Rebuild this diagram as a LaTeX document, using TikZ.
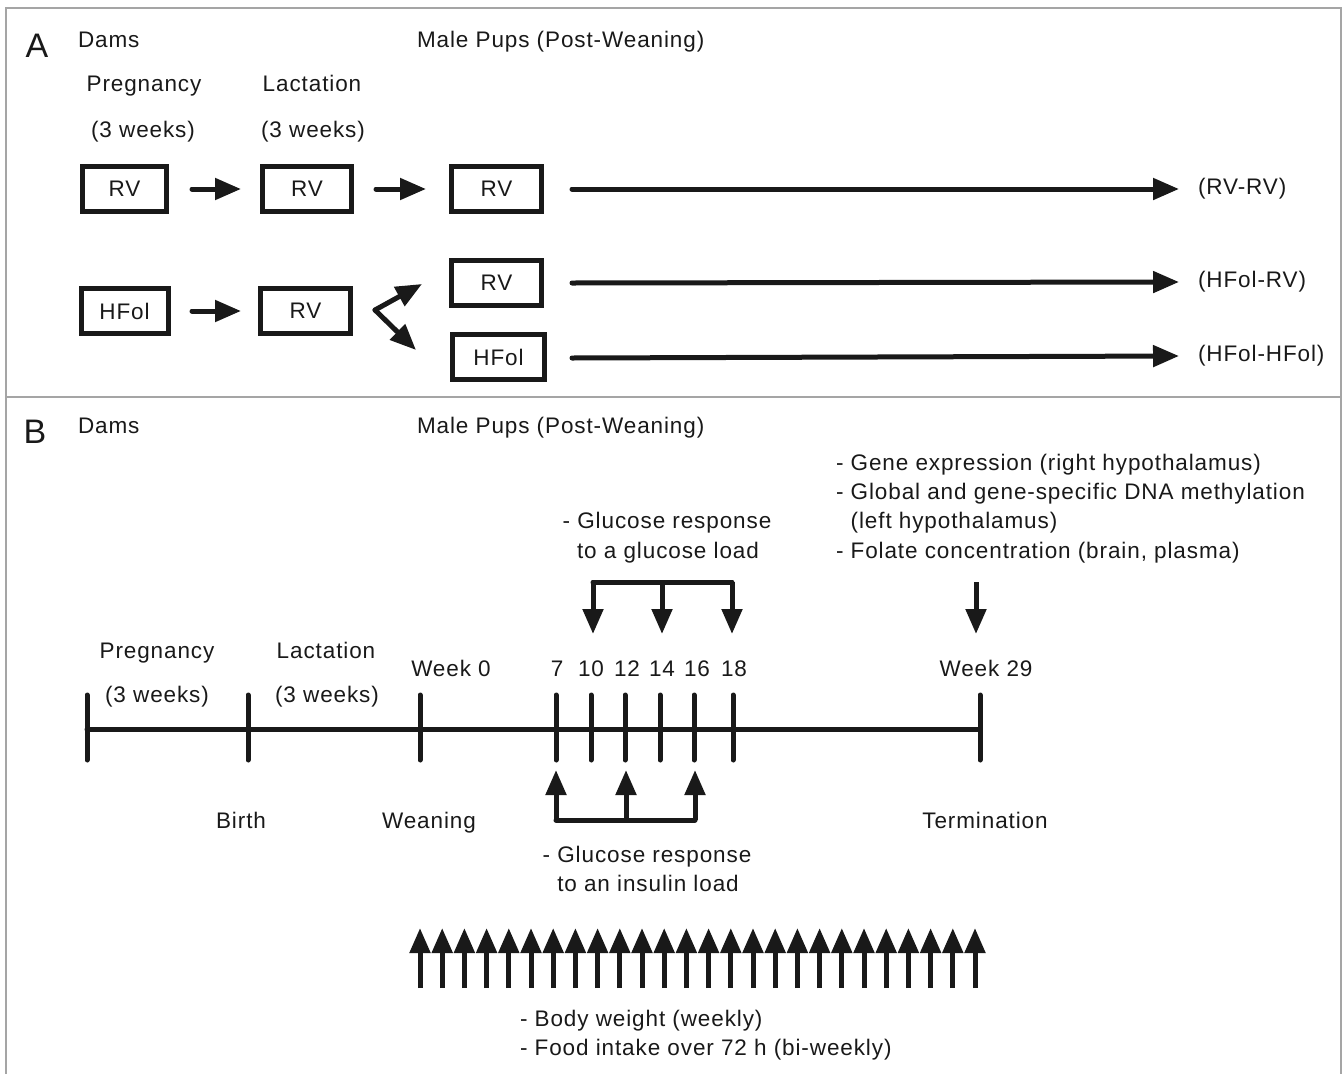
\documentclass[tikz,border=0pt]{standalone}
\usepackage{fontspec}
\setmainfont{Liberation Sans}
\newfontfamily\lsf[LetterSpace=4]{Liberation Sans}
\usetikzlibrary{arrows.meta}
\definecolor{ink}{RGB}{25,25,25}
\definecolor{framec}{RGB}{165,165,165}
\newcommand\fs{\lsf\fontsize{22.5}{26}\selectfont}
\newcommand\bigfs{\fontsize{34}{38}\selectfont}
\begin{document}
\begin{tikzpicture}[x=1pt,y=-1pt,
  every node/.style={inner sep=0pt, outer sep=0pt, text=ink, font=\fs},
  lbl/.style={anchor=base},
  lblw/.style={anchor=base west},
  panel/.style={anchor=base, font=\bigfs},
  diet/.style={draw=ink, line width=5pt, minimum width=84pt, minimum height=45pt},
  thick line/.style={draw=ink, line width=5pt, line cap=round},
  arr/.style={thick line, -{Triangle[length=26pt,width=21pt]}},
  uparr/.style={draw=ink, line width=5pt, -{Triangle[length=25pt,width=20pt]}},
]
\useasboundingbox (0,0) rectangle (1343,1074);
% frames
\draw[framec, line width=1.5pt] (6,1074) -- (6,8) -- (1341,8) -- (1341,1074);
\draw[framec, line width=1.5pt] (6,397) -- (1341,397);

% ---------------- Panel A ----------------
\node[panel] (pA) at (37,57) {A};
\node[lblw] (damsA) at (78,47) {Dams};
\node[lblw] (pupsA) at (417,47) {Male Pups (Post-Weaning)};
\node[lbl] (pregA) at (144,91) {Pregnancy};
\node[lbl] (pregwA) at (143,137) {(3 weeks)};
\node[lbl] (lactA) at (312,91) {Lactation};
\node[lbl] (lactwA) at (313,137) {(3 weeks)};

\node[diet] (a1) at (124.5,189) {RV};
\node[diet, minimum width=89pt] (a2) at (307,189) {RV};
\node[diet, minimum width=90pt] (a3) at (496.5,189) {RV};
\node[diet, minimum width=87pt] (b1) at (124.5,311) {HFol};
\node[diet, minimum width=90pt] (b2) at (305.5,311) {RV};
\node[diet, minimum width=90pt] (b3) at (496.5,282.5) {RV};
\node[diet, minimum width=92pt] (b4) at (498.5,357) {HFol};

\node[anchor=west] (rvrv) at (1198,189) {(RV-RV)};
\node[anchor=west] (hfrv) at (1198,282) {(HFol-RV)};
\node[anchor=west] (hfhf) at (1198,356) {(HFol-HFol)};

\draw[arr] ([xshift=25.5pt]a1.east) -- ([xshift=-21.5pt]a2.west);
\draw[arr] ([xshift=24.5pt]a2.east) -- ([xshift=-25.5pt]a3.west);
\draw[arr] ([xshift=24pt]b1.east) -- ([xshift=-19.5pt]b2.west);
\draw[arr] ([xshift=30.5pt]a3.east) -- ([xshift=-19pt]rvrv.west);
\draw[arr] ([xshift=30.5pt,yshift=-0.5pt]b3.east) -- ([xshift=-19pt]hfrv.west);
\draw[arr] ([xshift=27.5pt,yshift=-1pt]b4.east) -- ([xshift=-19pt]hfhf.west);

\coordinate (fork) at (375,310);
\coordinate (forkU) at (422,284);
\coordinate (forkL) at (416,350);
\draw[arr] (fork) -- (forkU);
\draw[arr] (fork) -- (forkL);

% ---------------- Panel B ----------------
\node[panel] (pB) at (35,443) {B};
\node[lblw] (damsB) at (78,433) {Dams};
\node[lblw] (pupsB) at (417,433) {Male Pups (Post-Weaning)};

\node[lbl] (pregB) at (157,658) {Pregnancy};
\node[lbl] (pregwB) at (157,702) {(3 weeks)};
\node[lbl] (lactB) at (326,658) {Lactation};
\node[lbl] (lactwB) at (327,702) {(3 weeks)};

% timeline coordinates
\coordinate (tS) at (87,729);
\coordinate (tBirth) at (248,729);
\coordinate (tW0) at (420,729);
\coordinate (t7) at (556,729);
\coordinate (t10) at (591,729);
\coordinate (t12) at (625,729);
\coordinate (t14) at (660,729);
\coordinate (t16) at (694,729);
\coordinate (t18) at (733,729);
\coordinate (t29) at (980,729);

\draw[thick line] (tS) -- (t29);
\foreach \t in {tS,tBirth,tW0,t7,t10,t12,t14,t16,t18,t29}
  \draw[thick line] ([yshift=-31pt]\t) -- ([yshift=34pt]\t);

\node[lbl] (w0) at (451,676) {Week 0};
\node[lbl] (n7) at (557,676) {7};
\node[lbl] (n10) at (591,676) {10};
\node[lbl] (n12) at (627,676) {12};
\node[lbl] (n14) at (662,676) {14};
\node[lbl] (n16) at (697,676) {16};
\node[lbl] (n18) at (734,676) {18};
\node[lbl] (w29) at (986,676) {Week 29};

\node[lbl] (birth) at (241,828) {Birth};
\node[lbl] (wean) at (429,828) {Weaning};
\node[lbl] (term) at (985,828) {Termination};

% glucose load
\node[lbl] (gl1) at (667,528) {- Glucose response};
\node[lbl] (gl2) at (668,558) {to a glucose load};
\coordinate (gL) at (593,582);
\coordinate (gM) at (662,582);
\coordinate (gR) at (732,582);
\draw[thick line, line join=round] (gL) -- (gR);
\draw[uparr] (gL) -- ++(0,52);
\draw[uparr] (gM) -- ++(0,52);
\draw[uparr] (gR) -- ++(0,52);

% insulin load
\coordinate (iL) at (556,820);
\coordinate (iM) at (626,820);
\coordinate (iR) at (695,820);
\draw[thick line, line join=round] (iL) -- (iR);
\draw[uparr] (iL) -- ++(0,-50);
\draw[uparr] (iM) -- ++(0,-50);
\draw[uparr] (iR) -- ++(0,-50);
\node[lbl] (il1) at (647,862) {- Glucose response};
\node[lbl] (il2) at (648,891) {to an insulin load};

% termination measures
\node[lblw] (g1) at (836,470) {- Gene expression (right hypothalamus)};
\node[lblw] (g2) at (836,499) {- Global and gene-specific DNA methylation};
\node[lblw] (g3) at (836,528) {\phantom{- }(left hypothalamus)};
\node[lblw] (g4) at (836,558) {- Folate concentration (brain, plasma)};
\coordinate (tA) at (976,582);
\draw[uparr] (tA) -- ++(0,52);

% weekly arrows
\foreach \i in {0,...,25}
  \draw[draw=ink, line width=5pt, -{Triangle[length=25pt,width=20pt]}]
    (420+\i*22.2,988) -- (420+\i*22.2,928);

\node[lblw] (bw1) at (520,1026) {- Body weight (weekly)};
\node[lblw] (bw2) at (520,1055) {- Food intake over 72 h (bi-weekly)};
\end{tikzpicture}
\end{document}
